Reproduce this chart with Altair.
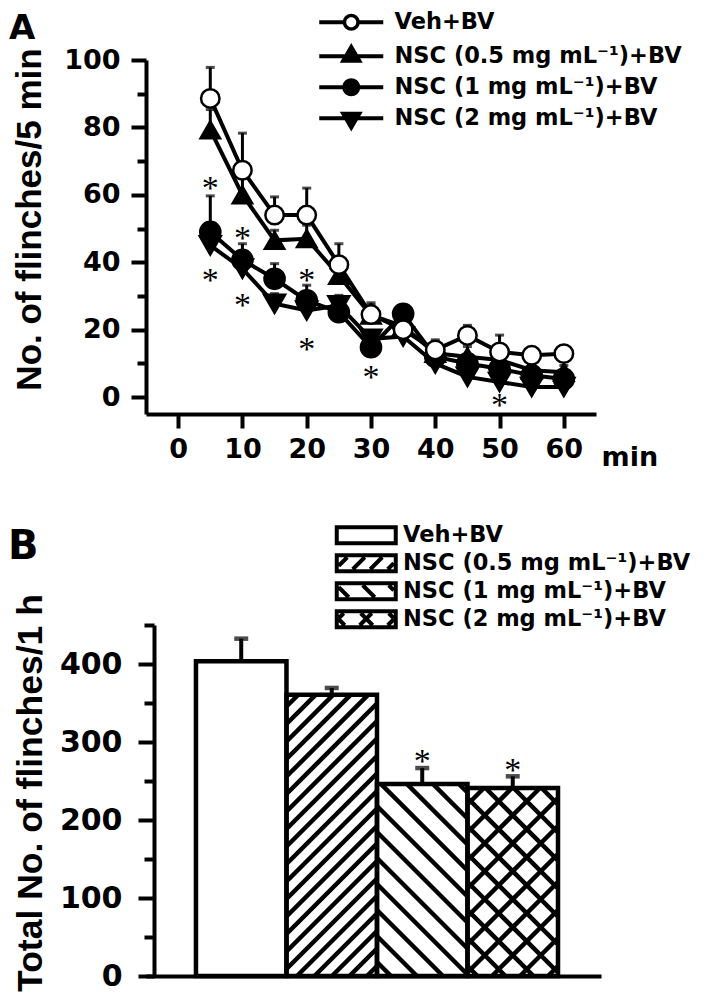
import math
import altair as alt
import pandas as pd

# ---------------- data ----------------
groups = ["Veh+BV", "NSC (0.5 mg mL⁻¹)+BV", "NSC (1 mg mL⁻¹)+BV", "NSC (2 mg mL⁻¹)+BV"]
times = [5, 10, 15, 20, 25, 30, 35, 40, 45, 50, 55, 60]
veh_mean = [88.6, 67.3, 54.0, 54.0, 39.3, 24.5, 20.0, 14.0, 18.3, 13.4, 12.4, 12.9]
veh_err = [9.2, 11.0, 5.4, 8.0, 6.2, 3.5, 3.0, 3.0, 3.0, 5.0, 2.0, 2.0]
nsc05_mean = [79.3, 60.0, 46.5, 47.0, 36.1, 24.3, 21.0, 13.0, 12.0, 11.0, 8.0, 7.4]
nsc05_err = [6.0, 8.0, 3.0, 4.0, 5.0, 3.0, 3.0, 3.0, 3.0, 3.0, 2.0, 2.0]
nsc1_mean = [49.0, 40.7, 35.1, 28.7, 25.2, 14.8, 24.7, 12.0, 10.0, 8.4, 6.5, 5.4]
nsc1_err = [10.7, 4.8, 4.5, 4.5, 3.0, 2.0, 2.0, 2.0, 2.0, 2.0, 1.5, 1.5]
nsc2_mean = [45.0, 38.1, 27.7, 25.7, 27.2, 17.3, 18.0, 10.0, 6.0, 4.5, 3.0, 3.0]
nsc2_err = [4.0, 3.0, 3.0, 3.0, 3.0, 2.0, 2.0, 2.0, 2.0, 2.0, 1.0, 1.0]

star_time = [5, 5, 10, 10, 20, 20, 30, 50]
star_value = [63.4, 36.2, 48.7, 28.8, 36.2, 15.8, 7.4, -0.9]

total_mean = [403.5, 360.7, 246.0, 241.0]
total_err = [29.0, 8.6, 20.6, 15.0]
total_star_groups = [groups[2], groups[3]]
total_star_value = [281.5, 271.0]

panel_labels = ["A", "B"]

# ---------------- layout / style ----------------
FONT = "DejaVu Sans"
TFONT = "Liberation Sans"
SFONT = "Liberation Serif"
A_W, A_H = 450, 354
B_W, B_H = 455, 351
A_XD, A_YD = [-5, 65], [-5, 100]
B_XD, B_YD = [-0.052, 4.975], [0, 450]
LEG_FS = 22.5

# ---------------- panel A table ----------------
series = [(groups[3], nsc2_mean, nsc2_err), (groups[2], nsc1_mean, nsc1_err),
          (groups[1], nsc05_mean, nsc05_err), (groups[0], veh_mean, veh_err)]
rows = []
for g, m, e in series:
    for t, mv, ev in zip(times, m, e):
        rows.append({"group": g, "time": t, "mean": mv, "err": ev, "top": mv + ev})
dfA = pd.DataFrame(rows)
dfAs = pd.DataFrame({"time": star_time, "v": star_value, "s": ["*"] * len(star_time)})


# ---------------- symbol paths for legends ----------------
def poly(pts, sign=1):
    n = len(pts)
    area = sum(pts[i][0] * pts[(i + 1) % n][1] - pts[(i + 1) % n][0] * pts[i][1] for i in range(n))
    if area * sign < 0:
        pts = pts[::-1]
    return "M" + "L".join(f"{x:.3f},{y:.3f}" for x, y in pts) + "Z"


def rect(x0, y0, x1, y1):
    return poly([(x0, y0), (x1, y0), (x1, y1), (x0, y1)])


def circle(r, hole=False, n=36):
    pts = [(r * math.cos(2 * math.pi * k / n), r * math.sin(2 * math.pi * k / n)) for k in range(n)]
    return poly(pts, -1 if hole else 1)


def seg_poly(x0, y0, x1, y1, t):
    dx, dy = x1 - x0, y1 - y0
    L = math.hypot(dx, dy)
    nx, ny = -dy / L * t / 2, dx / L * t / 2
    return poly([(x0 + nx, y0 + ny), (x1 + nx, y1 + ny), (x1 - nx, y1 - ny), (x0 - nx, y0 - ny)])


def hatch_lines(W, H, p, slope, phase):
    segs = []
    if slope > 0:
        c = -W + phase
        while c < H:
            x0, x1 = max(0.0, -c), min(W, H - c)
            if x1 - x0 > 0.8:
                segs.append((x0, x0 + c, x1, x1 + c))
            c += p
    else:
        c = phase
        while c < W + H:
            x0, x1 = max(0.0, c - H), min(W, c)
            if x1 - x0 > 0.8:
                segs.append((x0, -x0 + c, x1, -x1 + c))
            c += p
    return segs


line_bar = rect(-3.2, -0.2, 3.2, 0.2)
tri_up = poly([(0, -1.33), (1.15, 0.66), (-1.15, 0.66)])
tri_dn = poly([(0, 1.33), (-1.15, -0.66), (1.15, -0.66)])
pathsA = [
    rect(-3.2, -0.2, -0.6, 0.2) + rect(0.6, -0.2, 3.2, 0.2) + circle(0.85) + circle(0.5, hole=True),
    line_bar + tri_up,
    line_bar + circle(0.9),
    line_bar + tri_dn,
]

hatch_spec = {groups[0]: [], groups[1]: [(1, 17.5, 6)], groups[2]: [(-1, 26, 10)],
              groups[3]: [(1, 28, 6), (-1, 28, 6)]}

box = (rect(-3.15, -1.0, 3.15, -0.6) + rect(-3.15, 0.6, 3.15, 1.0)
       + rect(-3.15, -1.0, -2.75, 1.0) + rect(2.75, -1.0, 3.15, 1.0))
pathsB = []
for g in groups:
    p = box
    for slope, per, ph in hatch_spec[g]:
        for X0, Y0, X1, Y1 in hatch_lines(55.0, 12.0, per, slope, ph):
            p += seg_poly((X0 - 27.5) / 10, (6 - Y0) / 10, (X1 - 27.5) / 10, (6 - Y1) / 10, 0.4)
    pathsB.append(p)

# ---------------- panel A ----------------
axisAx = alt.Axis(values=[0, 10, 20, 30, 40, 50, 60], tickSize=14, tickWidth=4, domainWidth=4,
                  labelFont=FONT, labelFontSize=27, labelFontWeight="bold", labelPadding=8,
                  title="min", titleFont=FONT, titleFontSize=27, titleFontWeight="bold",
                  titleX=455, titleY=51, titleAlign="left", titleBaseline="alphabetic",
                  grid=False)
axisAy = alt.Axis(values=list(range(0, 101, 10)),
                  labelExpr="datum.value % 20 === 0 ? datum.label : ''",
                  tickSize={"condition": {"test": "datum.value % 20 !== 0", "value": 9}, "value": 15},
                  tickWidth=4, domainWidth=4, labelFont=FONT, labelFontSize=27, labelFontWeight="bold",
                  labelPadding=11, title="No. of flinches/5 min", titleFont=TFONT, titleFontSize=35,
                  titleFontWeight="bold", titlePadding=16, titleY=A_H / 2 - 18, grid=False)


def xA(f):
    return alt.X(f, type="quantitative", scale=alt.Scale(domain=A_XD, nice=False, zero=False), axis=axisAx)


def yA(f):
    return alt.Y(f, type="quantitative", scale=alt.Scale(domain=A_YD, nice=False, zero=False), axis=axisAy)


baseA = alt.Chart(dfA)
err_rule = baseA.mark_rule(color="black", strokeWidth=3).encode(x=xA("time"), y=yA("mean"), y2="top:Q")
err_cap = baseA.mark_tick(orient="horizontal", color="black", size=9, thickness=3).encode(
    x=xA("time"), y=yA("top"))
lines = baseA.mark_line(color="black", strokeWidth=4).encode(
    x=xA("time"), y=yA("mean"), detail="group:N", order=alt.Order("time:Q"))
points = baseA.mark_point(filled=True, stroke="black", strokeWidth=2.5, opacity=1).encode(
    x=xA("time"), y=yA("mean"),
    shape=alt.Shape("group:N", scale=alt.Scale(domain=groups, range=["circle", "triangle-up", "circle", "triangle-down"]), legend=None),
    fill=alt.Fill("group:N", scale=alt.Scale(domain=groups, range=["white", "black", "black", "black"]), legend=None),
    size=alt.Size("group:N", scale=alt.Scale(domain=groups, range=[340, 440, 380, 440]), legend=None),
)
starsA = alt.Chart(dfAs).mark_text(font=SFONT, fontSize=34, color="black", baseline="alphabetic", dy=16).encode(
    x=xA("time"), y=yA("v"), text="s:N")
legA = alt.Legend(title=None, orient="none", legendX=194, legendY=-49, padding=0,
                  labelFont=FONT, labelFontSize=LEG_FS, labelFontWeight="bold", labelColor="black",
                  labelLimit=500, labelOffset=32, symbolSize=400, symbolOpacity=1,
                  symbolFillColor="black", symbolStrokeWidth=0, rowPadding=8)
legendA = baseA.mark_point(filled=True, color="black", opacity=0, size=400).encode(
    x=xA("time"), y=yA("mean"),
    shape=alt.Shape("group:N", scale=alt.Scale(domain=groups, range=pathsA), legend=legA))
labelA = alt.Chart(pd.DataFrame({"t": [panel_labels[0]]})).mark_text(
    font=FONT, fontSize=34, fontWeight="bold", color="black", align="left", baseline="alphabetic").encode(
    x=alt.value(-137), y=alt.value(-21), text="t:N")

chartA = alt.layer(err_rule, err_cap, lines, points, starsA, legendA, labelA).resolve_scale(
    shape="independent").properties(width=A_W, height=A_H)

# ---------------- panel B ----------------
dfB = pd.DataFrame({"group": groups, "total": total_mean, "err": total_err})
dfB["pos"] = range(1, len(groups) + 1)
dfB["x0"] = dfB["pos"] - 0.5
dfB["x1"] = dfB["pos"] + 0.5
dfB["top"] = dfB["total"] + dfB["err"]
dfB["zero"] = 0.0

kx = B_W / (B_XD[1] - B_XD[0])
ky = B_H / (B_YD[1] - B_YD[0])
hrows = []
for _, r in dfB.iterrows():
    W, H = kx * 1.0, ky * r["total"]
    for slope, per, ph in hatch_spec[r["group"]]:
        for X0, Y0, X1, Y1 in hatch_lines(W, H, per, slope, ph + 4):
            hrows.append({"hx": r["x0"] + X0 / kx, "hy": Y0 / ky, "hx2": r["x0"] + X1 / kx, "hy2": Y1 / ky})
dfH = pd.DataFrame(hrows)
pos_of = dict(zip(groups, dfB["pos"]))
dfBs = pd.DataFrame({"pos": [pos_of[g] for g in total_star_groups], "v": total_star_value,
                     "s": ["*"] * len(total_star_groups)})

axisBx = alt.Axis(ticks=False, labels=False, title=None, domainWidth=4, grid=False)
axisBy = alt.Axis(values=list(range(0, 451, 50)),
                  labelExpr="datum.value % 100 === 0 ? datum.label : ''",
                  tickSize={"condition": {"test": "datum.value % 100 !== 0", "value": 10}, "value": 16},
                  tickWidth=4, domainWidth=4, offset=-8, labelFont=FONT, labelFontSize=30,
                  labelFontWeight="bold", labelPadding=16, title="Total No. of flinches/1 h",
                  titleFont=TFONT, titleFontSize=35.5, titleFontWeight="bold", titlePadding=11,
                  titleY=B_H / 2 - 8, grid=False)


def xB(f):
    return alt.X(f, type="quantitative", scale=alt.Scale(domain=B_XD, nice=False, zero=False), axis=axisBx)


def yB(f):
    return alt.Y(f, type="quantitative", scale=alt.Scale(domain=B_YD, nice=False, zero=False), axis=axisBy)


baseB = alt.Chart(dfB)
bars_white = baseB.mark_rect(fill="white", strokeWidth=0).encode(x=xB("x0"), x2="x1:Q", y=yB("zero"), y2="total:Q")
hatch = alt.Chart(dfH).mark_rule(color="black", strokeWidth=4.5, strokeCap="butt").encode(
    x=xB("hx"), x2="hx2:Q", y=yB("hy"), y2="hy2:Q")
outline = baseB.mark_rect(filled=False, stroke="black", strokeWidth=4.5).encode(
    x=xB("x0"), x2="x1:Q", y=yB("zero"), y2="total:Q")
err_rule_b = baseB.mark_rule(color="black", strokeWidth=4).encode(x=xB("pos"), y=yB("total"), y2="top:Q")
err_cap_b = baseB.mark_tick(orient="horizontal", color="black", size=14, thickness=4.5).encode(
    x=xB("pos"), y=yB("top"))
starsB = alt.Chart(dfBs).mark_text(font=SFONT, fontSize=34, color="black", baseline="alphabetic", dy=16).encode(
    x=xB("pos"), y=yB("v"), text="s:N")
legB = alt.Legend(title=None, orient="none", legendX=209, legendY=-101, padding=0,
                  labelFont=FONT, labelFontSize=LEG_FS, labelFontWeight="bold", labelColor="black",
                  labelLimit=500, labelOffset=25.5, symbolSize=400, symbolOpacity=1,
                  symbolFillColor="black", symbolStrokeWidth=0, rowPadding=5)
legendB = baseB.mark_point(filled=True, color="black", opacity=0, size=400).encode(
    x=xB("pos"), y=yB("total"),
    shape=alt.Shape("group:N", scale=alt.Scale(domain=groups, range=pathsB), legend=legB))
labelB = alt.Chart(pd.DataFrame({"t": [panel_labels[1]]})).mark_text(
    font=FONT, fontSize=40, fontWeight="bold", color="black", align="left", baseline="alphabetic").encode(
    x=alt.value(-138), y=alt.value(-66), text="t:N")

chartB = alt.layer(bars_white, hatch, outline, err_rule_b, err_cap_b, starsB, legendB, labelB).properties(
    width=B_W, height=B_H)

chart = alt.vconcat(chartA, chartB, spacing=54).resolve_scale(shape="independent").properties(
    padding={"left": 0, "top": 3, "right": 0, "bottom": 0}, background="white").configure_view(
    stroke=None).configure_axis(
    labelColor="black", titleColor="black", domainColor="black", tickColor="black")

chart.save("out.html", embed_options={"renderer": "svg", "actions": False})
